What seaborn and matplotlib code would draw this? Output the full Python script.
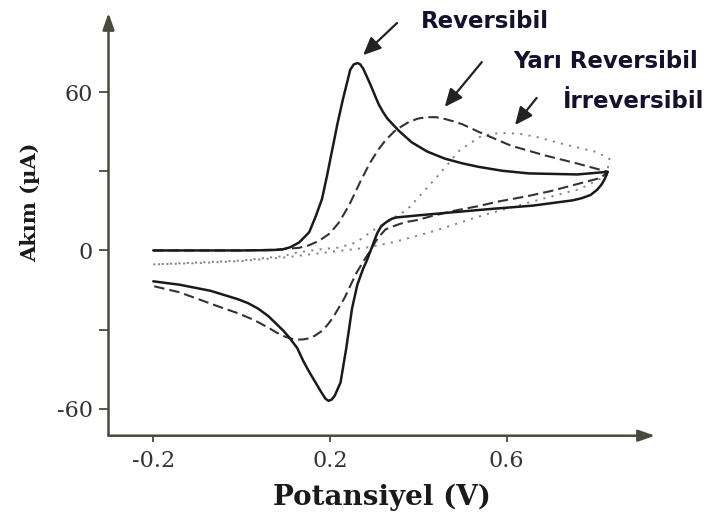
import matplotlib
matplotlib.use("Agg")
import matplotlib.pyplot as plt
import pandas as pd
import seaborn as sns

# ---------------- data ----------------
# Reversible (solid)
rev_fwd_V = [-0.20, -0.10, 0.00, 0.06, 0.08, 0.092, 0.11, 0.13, 0.153, 0.168, 0.182, 0.193,
             0.205, 0.217, 0.229, 0.246, 0.254, 0.262, 0.268, 0.275, 0.29, 0.30, 0.31, 0.32,
             0.33, 0.355, 0.385, 0.42, 0.46, 0.50, 0.536, 0.59, 0.65, 0.76, 0.829]
rev_fwd_I = [0.0, 0.0, 0.0, 0.1, 0.25, 0.4, 1.2, 3.0, 6.9, 13.0, 19.5, 28.0,
             38.0, 48.0, 57.0, 68.5, 70.5, 71.0, 70.6, 69.0, 63.5, 59.5, 55.5, 52.5,
             50.0, 45.5, 41.0, 37.5, 34.8, 33.0, 31.7, 30.2, 29.2, 28.8, 29.8]
rev_rev_V = [0.829, 0.822, 0.815, 0.805, 0.79, 0.77, 0.75, 0.66, 0.57, 0.48, 0.40, 0.35, 0.34,
             0.33, 0.322, 0.315, 0.307, 0.30, 0.295, 0.29, 0.283, 0.275, 0.262, 0.25, 0.237,
             0.224, 0.211, 0.204, 0.197, 0.19, 0.18, 0.153, 0.14, 0.126, 0.117, 0.108, 0.095,
             0.081, 0.06, 0.037, 0.015, -0.008, -0.07, -0.14, -0.20]
rev_rev_I = [29.8, 27.0, 25.0, 23.0, 21.0, 19.8, 19.0, 17.0, 15.8, 14.5, 13.3, 12.5, 12.0,
             11.0, 10.0, 8.9, 6.5, 3.5, 1.2, -1.0, -4.0, -7.0, -13.0, -22.0, -37.0,
             -50.0, -55.0, -56.5, -57.0, -56.2, -53.6, -46.0, -42.0, -37.0, -35.0, -33.0, -30.5,
             -28.2, -24.8, -22.0, -20.0, -18.5, -15.3, -13.0, -11.7]

# Quasi-reversible (dashed)
qr_fwd_V = [-0.20, -0.10, 0.00, 0.08, 0.13, 0.15, 0.175, 0.20, 0.22, 0.243, 0.27, 0.29, 0.31,
            0.326, 0.345, 0.36, 0.38, 0.40, 0.42, 0.44, 0.461, 0.48, 0.50, 0.536, 0.61, 0.687,
            0.761, 0.829]
qr_fwd_I = [0.0, 0.0, 0.0, 0.3, 1.0, 1.8, 3.6, 6.5, 10.5, 17.0, 26.5, 33.0, 38.3,
            41.8, 45.0, 46.8, 48.8, 50.0, 50.5, 50.5, 49.8, 48.9, 47.8, 45.0, 39.7, 36.0,
            32.9, 29.8]
qr_rev_V = [0.829, 0.813, 0.761, 0.70, 0.648, 0.58, 0.536, 0.48, 0.43, 0.397, 0.37, 0.349, 0.326,
            0.31, 0.30, 0.29, 0.278, 0.26, 0.233, 0.206, 0.193, 0.18, 0.166, 0.153, 0.14, 0.126,
            0.112, 0.099, 0.08, 0.063, 0.03, -0.008, -0.053, -0.097, -0.142, -0.20]
qr_rev_I = [29.8, 27.5, 25.2, 22.5, 20.6, 18.5, 16.8, 15.0, 13.0, 11.5, 10.7, 9.5, 8.0,
            5.0, 2.5, -0.5, -3.5, -8.5, -18.0, -25.7, -28.5, -30.7, -32.3, -33.3, -33.7, -33.8,
            -33.4, -32.7, -31.2, -29.5, -26.5, -23.8, -21.2, -18.5, -15.8, -13.5]

# Irreversible (dotted)
ir_fwd_V = [-0.20, -0.10, 0.00, 0.092, 0.123, 0.175, 0.22, 0.259, 0.295, 0.335, 0.374, 0.405,
            0.442, 0.494, 0.539, 0.57, 0.60, 0.63, 0.668, 0.736, 0.804, 0.833]
ir_fwd_I = [-5.3, -4.6, -3.8, -2.2, -0.9, 0.4, 1.1, 3.0, 7.3, 11.5, 15.3, 21.0,
            27.8, 38.0, 43.0, 44.3, 44.5, 44.2, 43.0, 40.0, 37.3, 34.7]
ir_rev_V = [0.833, 0.826, 0.766, 0.653, 0.54, 0.427, 0.343, 0.28, 0.20, 0.10, 0.00, -0.10, -0.20]
ir_rev_I = [34.7, 28.3, 23.3, 18.3, 13.0, 6.9, 3.1, 1.0, -0.6, -2.6, -4.0, -4.8, -5.3]

x_ticks = [-0.2, 0.2, 0.6]
x_tick_labels = ["-0.2", "0.2", "0.6"]
y_ticks = [-60, 0, 60]
y_tick_labels = ["-60", "0", "60"]
y_minor_ticks = [-30, 30]

labels = ["Reversibil", "Yarı Reversibil", "İrreversibil"]
x_label = "Potansiyel (V)"
y_label = "Akım (µA)"


def loop(fV, fI, rV, rI):
    V = list(fV) + list(rV)[1:]
    I = list(fI) + list(rI)[1:]
    return pd.DataFrame({"V": V, "I": I})


df_rev = loop(rev_fwd_V, rev_fwd_I, rev_rev_V, rev_rev_I)
df_qr = loop(qr_fwd_V, qr_fwd_I, qr_rev_V, qr_rev_I)
df_ir = loop(ir_fwd_V, ir_fwd_I, ir_rev_V, ir_rev_I)

# ---------------- style ----------------
sns.set_theme(style="white")
plt.rcParams["font.family"] = ["DejaVu Serif"]
plt.rcParams["axes.unicode_minus"] = False

axis_color = "#4a4a3c"

fig = plt.figure(figsize=(7.2, 5.2), dpi=100)
fig.patch.set_facecolor("white")
ax = fig.add_axes([0.1507, 0.1621, 0.759, 0.813])
ax.set_facecolor("white")

sns.lineplot(data=df_ir, x="V", y="I", sort=False, estimator=None, ax=ax,
             color="#858585", lw=1.4, linestyle=(0, (1.1, 3.2)))
sns.lineplot(data=df_qr, x="V", y="I", sort=False, estimator=None, ax=ax,
             color="#333333", lw=1.5, linestyle=(0, (5, 2.4)))
sns.lineplot(data=df_rev, x="V", y="I", sort=False, estimator=None, ax=ax,
             color="#1a1a1a", lw=1.8)
for ln in ax.lines:
    ln.set_solid_joinstyle("round")
    ln.set_dash_joinstyle("round")

ax.set_xlim(-0.3014, 0.936)
ax.set_ylim(-70.2, 90.0)

for s in ax.spines.values():
    s.set_visible(False)

# axes with arrow heads
arrow_kw = dict(arrowstyle="-|>,head_length=1.0,head_width=0.35", color=axis_color,
                lw=1.8, shrinkA=0, shrinkB=0, mutation_scale=10)
ax.annotate("", xy=(1.0, 0.0), xytext=(0.0, 0.0), xycoords="axes fraction",
            textcoords="axes fraction", arrowprops=arrow_kw, annotation_clip=False)
ax.annotate("", xy=(0.0, 1.0), xytext=(0.0, 0.0), xycoords="axes fraction",
            textcoords="axes fraction", arrowprops=arrow_kw, annotation_clip=False)

ax.set_xticks(x_ticks)
ax.set_xticklabels(x_tick_labels)
ax.set_yticks(y_ticks)
ax.set_yticklabels(y_tick_labels)
ax.set_yticks(y_minor_ticks, minor=True)

ax.tick_params(axis="y", which="both", direction="out", left=True, right=False,
               length=7.5, width=1.3, color=axis_color, pad=4,
               labelsize=16, labelcolor="#333333")
ax.tick_params(axis="x", which="both", direction="out", bottom=True, top=False,
               length=4.5, width=1.3, color=axis_color, pad=6,
               labelsize=16, labelcolor="#333333")

ax.set_xlabel(x_label, fontsize=20, fontweight="bold", color="#1a1a1a", labelpad=8)
ax.set_ylabel(y_label, fontsize=15, fontweight="bold", color="#1a1a1a")
ax.yaxis.set_label_coords(-0.125, 0.553)
ax.grid(False)

# annotations
ann_color = "#12122e"
arr = dict(arrowstyle="-|>,head_length=0.9,head_width=0.4", color="#222222", lw=1.6,
           shrinkA=0, shrinkB=0, mutation_scale=12)
ann_font = dict(fontsize=16.5, fontweight="bold", family=["DejaVu Sans"], color=ann_color)

ax.annotate("", xy=(0.275, 74.0), xytext=(0.352, 86.2), arrowprops=arr, annotation_clip=False)
ax.annotate("", xy=(0.460, 54.4), xytext=(0.544, 71.4), arrowprops=arr, annotation_clip=False)
ax.annotate("", xy=(0.619, 47.5), xytext=(0.668, 57.8), arrowprops=arr, annotation_clip=False)

ax.text(0.551, 84.3, labels[0], ha="center", va="baseline", clip_on=False, **ann_font)
ax.text(0.825, 69.1, labels[1], ha="center", va="baseline", clip_on=False, **ann_font)
ax.text(0.887, 54.0, labels[2], ha="center", va="baseline", clip_on=False, **ann_font)

fig.savefig("out.png", dpi=100, facecolor="white")
